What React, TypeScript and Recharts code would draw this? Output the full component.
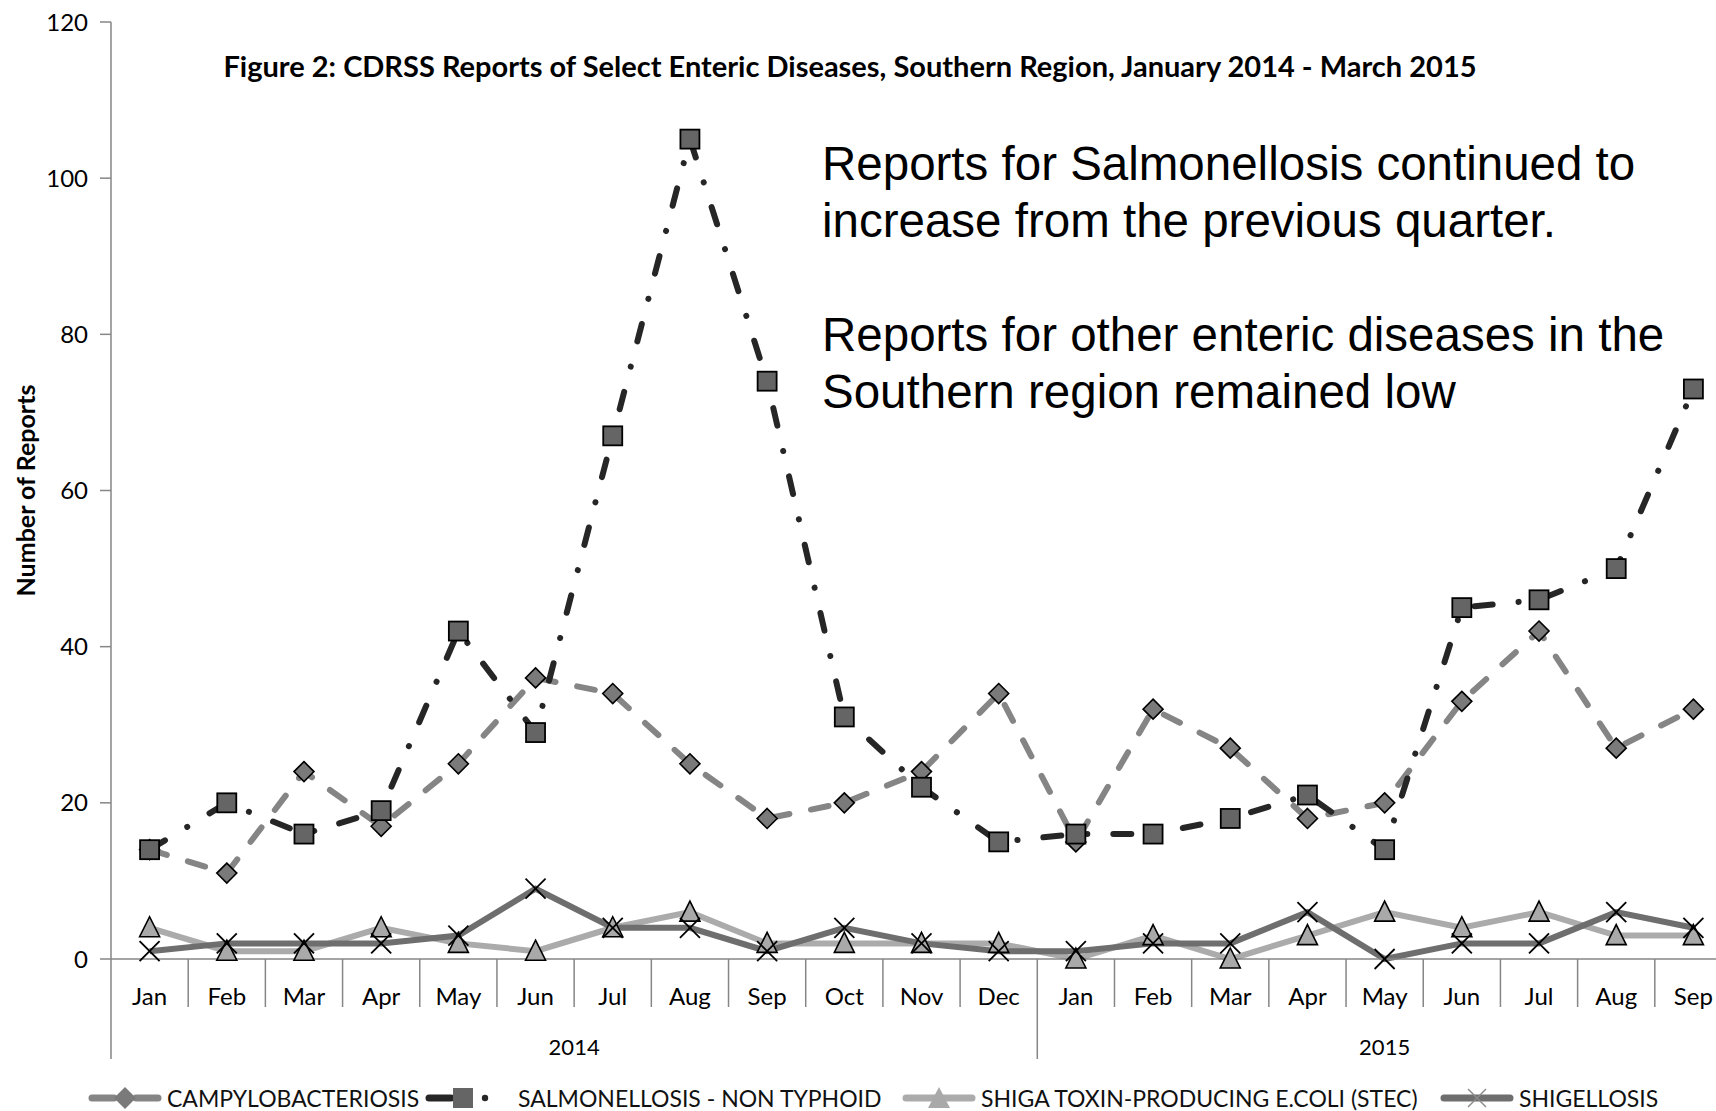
import React from 'react';
import { LineChart, Line, XAxis, YAxis, Legend } from 'recharts';

const months = [
  'Jan', 'Feb', 'Mar', 'Apr', 'May', 'Jun', 'Jul', 'Aug', 'Sep', 'Oct', 'Nov', 'Dec',
  'Jan', 'Feb', 'Mar', 'Apr', 'May', 'Jun', 'Jul', 'Aug', 'Sep',
];
const years = ['2014', '2015'];
const campylobacteriosis = [14, 11, 24, 17, 25, 36, 34, 25, 18, 20, 24, 34, 15, 32, 27, 18, 20, 33, 42, 27, 32];
const salmonellosis = [14, 20, 16, 19, 42, 29, 67, 105, 74, 31, 22, 15, 16, 16, 18, 21, 14, 45, 46, 50, 73];
const stec = [4, 1, 1, 4, 2, 1, 4, 6, 2, 2, 2, 2, 0, 3, 0, 3, 6, 4, 6, 3, 3];
const shigellosis = [1, 2, 2, 2, 3, 9, 4, 4, 1, 4, 2, 1, 1, 2, 2, 6, 0, 2, 2, 6, 4];
const yTicks = [0, 20, 40, 60, 80, 100, 120];

const data = months.map((m, i) => ({
  idx: i,
  month: m,
  campy: campylobacteriosis[i],
  salmo: salmonellosis[i],
  stec: stec[i],
  shig: shigellosis[i],
}));

const FONT = 'Lato, "Open Sans", sans-serif';
const CHART_W = 1740;
const CHART_H = 1111;
const Y_AXIS_W = 111;
const PLOT_W = 1621;
const BW = PLOT_W / 21;
const AXIS_GREY = '#868686';

const C_CAMPY = '#858585';
const C_SALMO = '#262626';
const C_STEC = '#ababab';
const C_SHIG = '#6e6e6e';

const Diamond = (props: any) => {
  const { cx, cy } = props;
  if (cx == null || cy == null) return null;
  const r = 10;
  return (
    <polygon
      points={`${cx},${cy - r} ${cx + r},${cy} ${cx},${cy + r} ${cx - r},${cy}`}
      fill="#7a7a7a"
      stroke="#000"
      strokeWidth={1.6}
    />
  );
};

const Square = (props: any) => {
  const { cx, cy } = props;
  if (cx == null || cy == null) return null;
  const r = 9.5;
  return <rect x={cx - r} y={cy - r} width={r * 2} height={r * 2} fill="#656565" stroke="#000" strokeWidth={1.8} />;
};

const Triangle = (props: any) => {
  const { cx, cy } = props;
  if (cx == null || cy == null) return null;
  const r = 10;
  return (
    <polygon
      points={`${cx},${cy - r - 1} ${cx + r},${cy + r - 1} ${cx - r},${cy + r - 1}`}
      fill="#a9a9a9"
      stroke="#000"
      strokeWidth={1.6}
    />
  );
};

const Cross = (props: any) => {
  const { cx, cy } = props;
  if (cx == null || cy == null) return null;
  const r = 10;
  return (
    <g stroke="#000" strokeWidth={1.8}>
      <line x1={cx - r} y1={cy - r} x2={cx + r} y2={cy + r} />
      <line x1={cx - r} y1={cy + r} x2={cx + r} y2={cy - r} />
    </g>
  );
};

// two level category axis: months, separators, years
const MonthTick = (props: any) => {
  const { x, y, payload } = props;
  const i = payload.value as number;
  const left = x - BW / 2;
  const longLine = i === 0 || i === 12;
  return (
    <g>
      <line x1={left} x2={left} y1={y} y2={y + (longLine ? 100 : 48)} stroke={AXIS_GREY} strokeWidth={1.5} />
      {i === 20 && <line x1={x + BW / 2} x2={x + BW / 2} y1={y} y2={y + 100} stroke={AXIS_GREY} strokeWidth={1.5} />}
      <text x={x} y={y + 36} textAnchor="middle" dominantBaseline="central" fontSize={24} fill="#000" fontFamily={FONT}>
        {months[i]}
      </text>
      {i === 5 && (
        <text x={x + BW / 2} y={y + 87} textAnchor="middle" dominantBaseline="central" fontSize={22} fill="#000" fontFamily={FONT}>
          {years[0]}
        </text>
      )}
      {i === 16 && (
        <text x={x} y={y + 87} textAnchor="middle" dominantBaseline="central" fontSize={22} fill="#000" fontFamily={FONT}>
          {years[1]}
        </text>
      )}
    </g>
  );
};

const legendItems = [
  { name: 'CAMPYLOBACTERIOSIS', left: 88, kind: 'campy' },
  { name: 'SALMONELLOSIS - NON TYPHOID', left: 425, kind: 'salmo' },
  { name: 'SHIGA TOXIN-PRODUCING E.COLI (STEC)', left: 902, kind: 'stec' },
  { name: 'SHIGELLOSIS', left: 1440, kind: 'shig' },
];

const LegendIcon = ({ kind }: { kind: string }) => {
  const w = 74;
  const c = 13;
  if (kind === 'campy')
    return (
      <svg width={w} height={26}>
        <line x1={4} x2={26} y1={c} y2={c} stroke={C_CAMPY} strokeWidth={7} strokeLinecap="round" />
        <line x1={48} x2={70} y1={c} y2={c} stroke={C_CAMPY} strokeWidth={7} strokeLinecap="round" />
        <polygon points={`37,${c - 11} 48,${c} 37,${c + 11} 26,${c}`} fill="#7a7a7a" />
      </svg>
    );
  if (kind === 'salmo')
    return (
      <svg width={w} height={26}>
        <line x1={4} x2={26} y1={c} y2={c} stroke={C_SALMO} strokeWidth={7} strokeLinecap="round" />
        <rect x={28} y={c - 10} width={20} height={20} fill="#656565" />
        <circle cx={60} cy={c} r={3.2} fill={C_SALMO} />
      </svg>
    );
  if (kind === 'stec')
    return (
      <svg width={w} height={26}>
        <line x1={4} x2={70} y1={c} y2={c} stroke={C_STEC} strokeWidth={7} strokeLinecap="round" />
        <polygon points={`37,${c - 11} 48,${c + 10} 26,${c + 10}`} fill="#a9a9a9" />
      </svg>
    );
  return (
    <svg width={w} height={26}>
      <line x1={4} x2={70} y1={c} y2={c} stroke={C_SHIG} strokeWidth={7} strokeLinecap="round" />
      <line x1={28} x2={46} y1={c - 9} y2={c + 9} stroke="#8a8a8a" strokeWidth={1.5} />
      <line x1={28} x2={46} y1={c + 9} y2={c - 9} stroke="#8a8a8a" strokeWidth={1.5} />
    </svg>
  );
};

const renderLegend = () => (
  <div style={{ position: 'relative', height: 40, boxSizing: 'border-box', width: CHART_W }}>
    {legendItems.map(it => (
      <div
        key={it.name}
        style={{
          position: 'absolute',
          left: it.left,
          top: 14,
          height: 26,
          display: 'flex',
          alignItems: 'center',
          fontFamily: FONT,
          fontSize: 23,
          color: '#111',
          whiteSpace: 'nowrap',
        }}
      >
        <LegendIcon kind={it.kind} />
        <span style={{ marginLeft: it.kind === 'salmo' ? 19 : 5 }}>{it.name}</span>
      </div>
    ))}
  </div>
);

export default function App() {
  return (
    <div
      style={{
        position: 'fixed',
        left: 0,
        top: 0,
        width: 1716,
        height: 1111,
        overflow: 'hidden',
        background: '#fff',
      }}
    >
      <LineChart
        width={CHART_W}
        height={CHART_H}
        data={data}
        margin={{ top: 22, right: CHART_W - Y_AXIS_W - PLOT_W, left: 0, bottom: 0 }}
      >
        <XAxis
          dataKey="idx"
          type="category"
          interval={0}
          tick={<MonthTick />}
          tickLine={false}
          tickSize={0}
          tickMargin={0}
          height={112}
          stroke={AXIS_GREY}
          strokeWidth={1.5}
          padding={{ left: BW / 2, right: BW / 2 }}
        />
        <YAxis
          domain={[0, 120]}
          ticks={yTicks}
          width={Y_AXIS_W}
          stroke={AXIS_GREY}
          strokeWidth={1.5}
          tickSize={11}
          tickMargin={12}
          tick={{ fill: '#000', fontSize: 24, fontFamily: FONT }}
          label={{
            content: (p: any) => {
              const vb = p.viewBox || {};
              const cy = (vb.y ?? 22) + (vb.height ?? 937) / 2;
              return (
                <text
                  transform={`translate(25,${cy}) rotate(-90)`}
                  textAnchor="middle"
                  dominantBaseline="central"
                  fontSize={25}
                  fontWeight={700}
                  fontFamily={FONT}
                  fill="#000"
                >
                  Number of Reports
                </text>
              );
            },
          }}
        />
        <Legend verticalAlign="bottom" align="left" content={renderLegend} wrapperStyle={{ left: 0, bottom: 0 }} />
        <Line
          dataKey="campy"
          name="CAMPYLOBACTERIOSIS"
          stroke={C_CAMPY}
          strokeWidth={6}
          strokeDasharray="18 22"
          strokeLinecap="round"
          type="linear"
          dot={<Diamond />}
          activeDot={false}
          isAnimationActive={false}
        />
        <Line
          dataKey="salmo"
          name="SALMONELLOSIS - NON TYPHOID"
          stroke={C_SALMO}
          strokeWidth={6}
          strokeDasharray="18 26 0.1 26"
          strokeLinecap="round"
          type="linear"
          dot={<Square />}
          activeDot={false}
          isAnimationActive={false}
        />
        <Line
          dataKey="stec"
          name="SHIGA TOXIN-PRODUCING E.COLI (STEC)"
          stroke={C_STEC}
          strokeWidth={6}
          type="linear"
          dot={<Triangle />}
          activeDot={false}
          isAnimationActive={false}
        />
        <Line
          dataKey="shig"
          name="SHIGELLOSIS"
          stroke={C_SHIG}
          strokeWidth={6}
          type="linear"
          dot={<Cross />}
          activeDot={false}
          isAnimationActive={false}
        />
      </LineChart>
      <div
        style={{
          position: 'absolute',
          left: 0,
          width: 1700,
          top: 48,
          lineHeight: '36px',
          textAlign: 'center',
          fontFamily: FONT,
          fontWeight: 700,
          fontSize: 29,
          color: '#000',
          whiteSpace: 'nowrap',
        }}
      >
        Figure 2: CDRSS Reports of Select Enteric Diseases, Southern Region, January 2014 - March 2015
      </div>
      <div
        style={{
          position: 'absolute',
          left: 822,
          top: 135,
          lineHeight: '57px',
          fontFamily: '"Liberation Sans", Arial, sans-serif',
          fontSize: 47.5,
          color: '#000',
          whiteSpace: 'nowrap',
        }}
      >
        Reports for Salmonellosis continued to
        <br />
        increase from the previous quarter.
        <br />
        <br />
        Reports for other enteric diseases in the
        <br />
        Southern region remained low
      </div>
    </div>
  );
}
